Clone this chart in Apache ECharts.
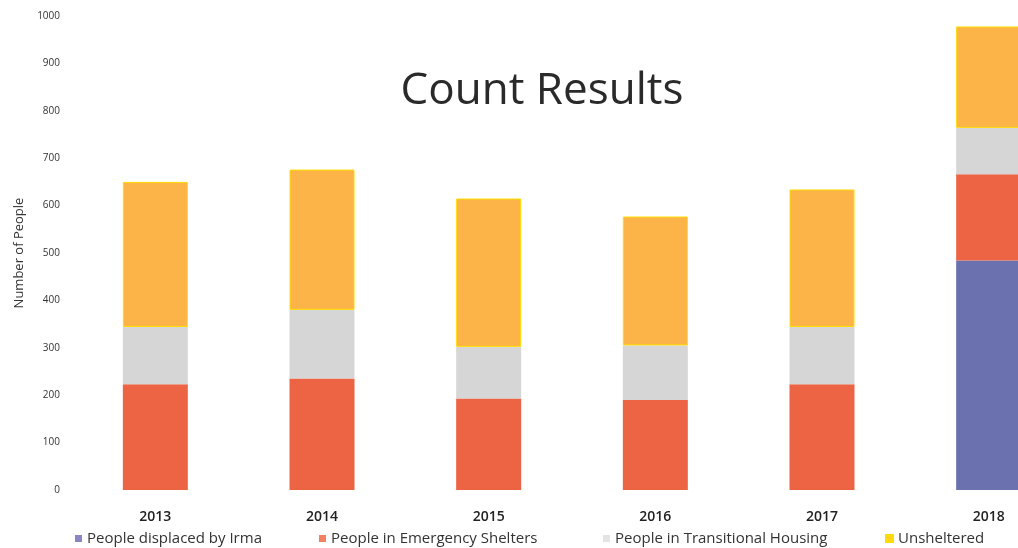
<!DOCTYPE html>
<html><head><meta charset="utf-8">
<script src="https://cdn.jsdelivr.net/npm/echarts@6/dist/echarts.min.js"></script>
<style>html,body{margin:0;padding:0;background:#fff}#c{width:1018px;height:548px}</style>
</head><body><div id="c"></div>
<script>
var years = ['2013','2014','2015','2016','2017','2018'];
var irma = [0, 0, 0, 0, 0, 484];
var emergency = [223, 235, 193, 190, 223, 182];
var transitional = [121, 145, 109, 115, 121, 98];
var unsheltered = [306, 296, 313, 272, 290, 214];
var yTicks = [0, 100, 200, 300, 400, 500, 600, 700, 800, 900, 1000];

var chart = echarts.init(document.getElementById('c'));
var font = 'Open Sans';
function bar(name, data, color, extra) {
  return {
    name: name, type: 'bar', stack: 'total', data: data, barWidth: 65,
    itemStyle: Object.assign({color: color}, extra || {})
  };
}
function leg(name, color, left) {
  return {
    left: left, top: 526, itemWidth: 7, itemHeight: 7, icon: 'rect',
    textStyle: {fontFamily: font, fontSize: 15, color: '#333'},
    data: [{name: name, itemStyle: {color: color}}]
  };
}
chart.setOption({
  animation: false,
  title: {
    text: 'Count Results', left: 537, top: 64, textAlign: 'center',
    textStyle: {fontFamily: font, fontSize: 44, fontWeight: 'normal', color: '#2a2a2a'}
  },
  legend: [
    leg('People displaced by Irma', '#8a86c2', 70),
    leg('People in Emergency Shelters', '#f3805f', 314),
    leg('People in Transitional Housing', '#e4e4e4', 598),
    leg('Unsheltered', '#ffd21c', 880)
  ],
  grid: {left: 72, width: 1000, top: 16, bottom: 58, containLabel: false, outerBoundsMode: 'none'},
  xAxis: {
    type: 'category', data: years,
    axisLine: {show: false}, axisTick: {show: false},
    axisLabel: {fontFamily: font, fontSize: 14, fontWeight: 600, color: '#222', margin: 20}
  },
  yAxis: {
    type: 'value', min: yTicks[0], max: yTicks[yTicks.length - 1], interval: 100,
    splitLine: {show: false}, axisLine: {show: false}, axisTick: {show: false},
    axisLabel: {fontFamily: font, fontSize: 10, color: '#333', margin: 12,
      formatter: function (v) { return String(v); }},
    name: 'Number of People', nameLocation: 'middle', nameGap: 46,
    nameTextStyle: {fontFamily: font, fontSize: 13, color: '#333'}
  },
  series: [
    bar('People displaced by Irma', irma, '#6b70ae'),
    bar('People in Emergency Shelters', emergency, '#ec6443'),
    bar('People in Transitional Housing', transitional, '#d6d6d6'),
    bar('Unsheltered', unsheltered, '#fcb449', {borderColor: '#ffdc00', borderWidth: 1})
  ]
});
</script></body></html>
